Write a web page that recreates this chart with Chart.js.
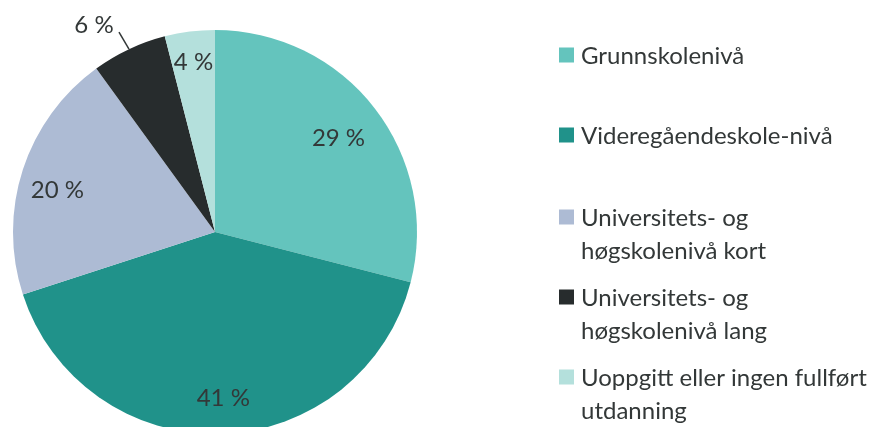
<!DOCTYPE html>
<html>
<head>
<meta charset="utf-8">
<script src="https://cdn.jsdelivr.net/npm/chart.js@4/dist/chart.umd.min.js"></script>
<style>
  html, body { margin: 0; padding: 0; background: #fff; overflow: hidden; }
  #wrap { width: 880px; height: 427px; overflow: hidden; }
</style>
</head>
<body>
<div id="wrap"><canvas id="pie" width="880" height="480"></canvas></div>
<script>
const categories = [
  "Grunnskolenivå",
  "Videregåendeskole-nivå",
  ["Universitets- og", "høgskolenivå kort"],
  ["Universitets- og", "høgskolenivå lang"],
  ["Uoppgitt eller ingen fullført", "utdanning"],
];
const shares = [29, 41, 20, 6, 4];
const colors = ["#64c4bd", "#20928a", "#adbbd4", "#272c2d", "#b4e0dc"];

const FONT = "Lato, 'Open Sans', sans-serif";
const TEXT = "#333838";

// where each percent sits: fraction of radius + small nudge
const labelPos = [
  { f: 0.78, dx: -1, dy: 3 },
  { f: 0.83, dx: 3, dy: -1 },
  { f: 0.81, dx: -2, dy: 9 },
  { f: 1.0, dx: 0, dy: 0 },
  { f: 0.85, dx: 0, dy: 1 },
];

// percent labels inside the slices, the small one gets a leader line
const sliceLabels = {
  id: "sliceLabels",
  afterDatasetsDraw(chart) {
    const ctx = chart.ctx;
    const arcs = chart.getDatasetMeta(0).data;
    ctx.save();
    ctx.font = "24px " + FONT;
    ctx.fillStyle = TEXT;
    ctx.textAlign = "center";
    ctx.textBaseline = "middle";
    arcs.forEach((arc, i) => {
      const mid = (arc.startAngle + arc.endAngle) / 2;
      const r = arc.outerRadius;
      const txt = shares[i] + " %";
      if (shares[i] === 6) {
        const x1 = arc.x + Math.cos(mid) * r, y1 = arc.y + Math.sin(mid) * r;
        const x2 = x1 - 10, y2 = y1 - 17;
        ctx.strokeStyle = TEXT;
        ctx.lineWidth = 1.5;
        ctx.beginPath();
        ctx.moveTo(x1, y1);
        ctx.lineTo(x2, y2);
        ctx.stroke();
        ctx.fillText(txt, x2 - 25, y2 - 7);
      } else {
        const p = labelPos[i];
        ctx.fillText(txt, arc.x + Math.cos(mid) * r * p.f + p.dx, arc.y + Math.sin(mid) * r * p.f + p.dy);
      }
    });
    ctx.restore();
  },
};

// legend on the right with wrapped labels
const sideLegend = {
  id: "sideLegend",
  afterDraw(chart) {
    const ctx = chart.ctx;
    const rowY = [55, 135, 217, 297, 377];
    ctx.save();
    ctx.font = "24px " + FONT;
    ctx.textBaseline = "middle";
    categories.forEach((label, i) => {
      ctx.fillStyle = colors[i];
      ctx.fillRect(559, rowY[i] - 7.5, 15, 15);
      ctx.fillStyle = TEXT;
      const lines = Array.isArray(label) ? label : [label];
      lines.forEach((line, j) => ctx.fillText(line, 581, rowY[i] + 1 + j * 33));
    });
    ctx.restore();
  },
};

new Chart(document.getElementById("pie").getContext("2d"), {
  type: "pie",
  data: {
    labels: categories,
    datasets: [
      {
        data: shares,
        backgroundColor: colors,
        borderWidth: 0,
      },
    ],
  },
  options: {
    responsive: false,
    animation: false,
    layout: { padding: { left: 13, top: 30, right: 463, bottom: 46 } },
    plugins: {
      legend: { display: false },
      tooltip: { enabled: false },
    },
  },
  plugins: [sliceLabels, sideLegend],
});
</script>
</body>
</html>
